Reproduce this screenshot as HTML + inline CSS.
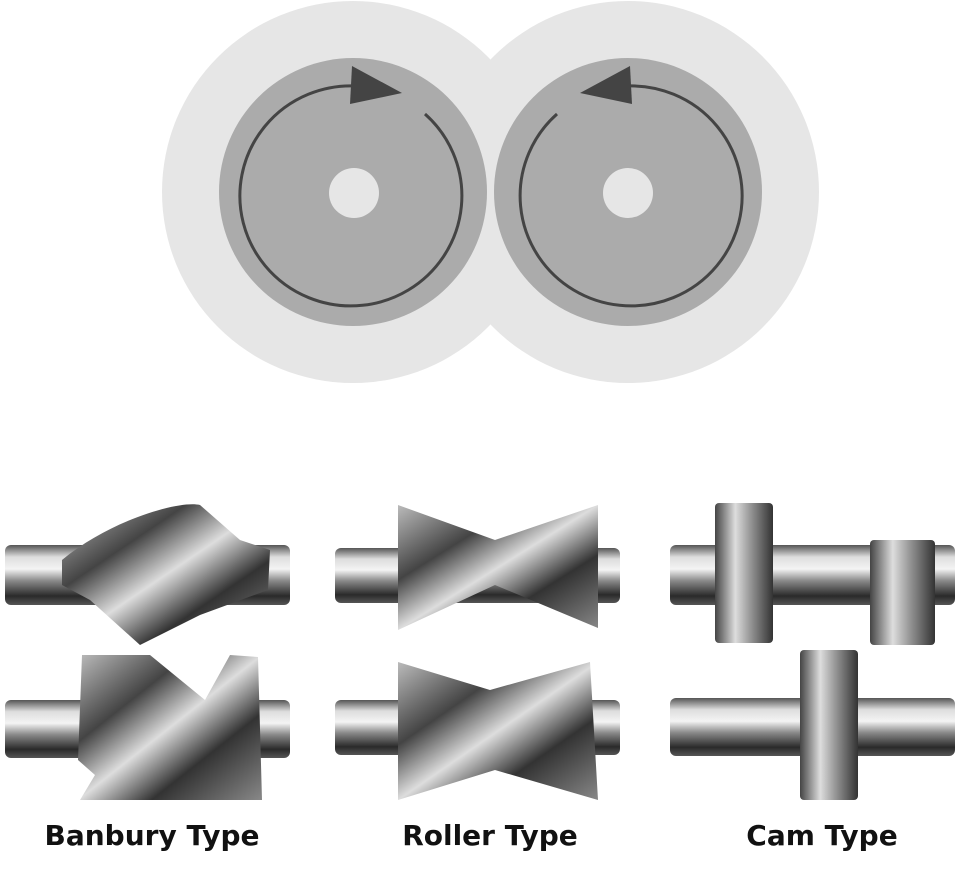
<!DOCTYPE html>
<html><head><meta charset="utf-8"><style>
html,body{margin:0;padding:0;background:#fff;}
svg{display:block}
text{font-family:"DejaVu Sans","Liberation Sans",sans-serif;}
</style></head><body>
<svg width="980" height="869" viewBox="0 0 980 869" xmlns="http://www.w3.org/2000/svg">
<defs>
<linearGradient id="m" x1="0" y1="0" x2="0" y2="1">
<stop offset="0" stop-color="#555"/><stop offset="0.2" stop-color="#ddd"/><stop offset="0.4" stop-color="#f4f4f4"/><stop offset="0.6" stop-color="#888"/><stop offset="0.85" stop-color="#2a2a2a"/><stop offset="1" stop-color="#555"/>
</linearGradient>
<linearGradient id="b" x1="0" y1="0" x2="1" y2="1">
<stop offset="0" stop-color="#bbb"/><stop offset="0.3" stop-color="#444"/><stop offset="0.5" stop-color="#ddd"/><stop offset="0.7" stop-color="#333"/><stop offset="1" stop-color="#888"/>
</linearGradient>
<linearGradient id="c" x1="0" y1="0" x2="1" y2="0">
<stop offset="0" stop-color="#444"/><stop offset="0.35" stop-color="#ddd"/><stop offset="0.6" stop-color="#999"/><stop offset="1" stop-color="#333"/>
</linearGradient>
</defs>
<circle cx="353" cy="192" r="191" fill="#e6e6e6"/>
<circle cx="628" cy="192" r="191" fill="#e6e6e6"/>
<circle cx="353" cy="192" r="134" fill="#ababab"/>
<circle cx="628" cy="192" r="134" fill="#ababab"/>
<circle cx="354" cy="193" r="25" fill="#e6e6e6"/>
<circle cx="628" cy="193" r="25" fill="#e6e6e6"/>
<path d="M356 86 A111 110 0 1 0 425 114" fill="none" stroke="#444" stroke-width="3"/>
<polygon points="352,66 402,93 350,104" fill="#444"/>
<path d="M626 86 A111 110 0 1 1 557 114" fill="none" stroke="#444" stroke-width="3"/>
<polygon points="630,66 580,93 632,104" fill="#444"/>
<rect x="5" y="545" width="285" height="60" rx="6" fill="url(#m)"/>
<path d="M62 560 C110 520 180 500 200 505 L240 540 L270 550 L268 590 L200 615 L140 645 L90 600 L62 585 Z" fill="url(#b)"/>
<rect x="5" y="700" width="285" height="58" rx="6" fill="url(#m)"/>
<path d="M82 655 L150 655 L205 700 L230 655 L258 657 L262 800 L80 800 L95 775 L78 760 Z" fill="url(#b)"/>
<rect x="335" y="548" width="285" height="55" rx="6" fill="url(#m)"/>
<path d="M398 505 L495 540 L598 505 L598 628 L495 585 L398 630 Z" fill="url(#b)"/>
<rect x="335" y="700" width="285" height="55" rx="6" fill="url(#m)"/>
<path d="M398 662 L490 690 L590 662 L598 800 L495 770 L398 800 Z" fill="url(#b)"/>
<rect x="670" y="545" width="285" height="60" rx="6" fill="url(#m)"/>
<rect x="715" y="503" width="58" height="140" rx="4" fill="url(#c)"/>
<rect x="870" y="540" width="65" height="105" rx="4" fill="url(#c)"/>
<rect x="670" y="698" width="285" height="58" rx="6" fill="url(#m)"/>
<rect x="800" y="650" width="58" height="150" rx="4" fill="url(#c)"/>
<text x="152" y="845" font-size="28" font-weight="bold" text-anchor="middle" fill="#111">Banbury Type</text>
<text x="490" y="845" font-size="28" font-weight="bold" text-anchor="middle" fill="#111">Roller Type</text>
<text x="822" y="845" font-size="28" font-weight="bold" text-anchor="middle" fill="#111">Cam Type</text>
</svg>
</body></html>
